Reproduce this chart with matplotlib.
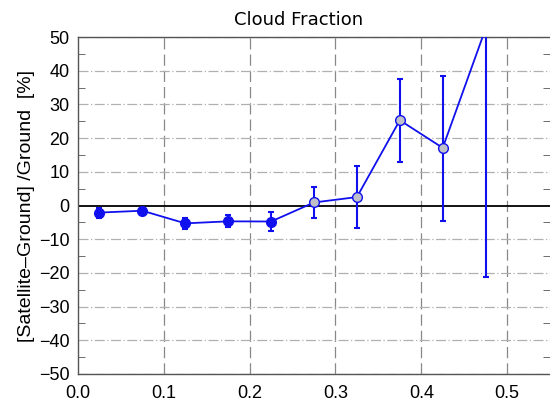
import matplotlib
matplotlib.use('Agg')
import matplotlib.pyplot as plt
import numpy as np

# bin centres of cloud fraction and relative difference [%]
cloud_frac = [0.025, 0.075, 0.125, 0.175, 0.225, 0.275, 0.325, 0.375, 0.425, 0.475]
rel_diff = [-2.1, -1.55, -5.3, -4.7, -4.75, 0.9, 2.5, 25.3, 17.1, 52.5]
err_low = [1.6, 0.8, 1.8, 1.8, 2.85, 4.5, 9.1, 12.4, 21.6, 73.7]
err_high = [1.4, 0.8, 1.7, 1.8, 2.75, 4.5, 9.1, 12.3, 21.3, 73.7]
filled = [True, True, True, True, True, False, False, False, False, False]

yticks = [-50, -40, -30, -20, -10, 0, 10, 20, 30, 40, 50]
xticks = [0.0, 0.1, 0.2, 0.3, 0.4, 0.5]

plt.rcParams['font.family'] = ['Liberation Sans', 'DejaVu Sans']

fig = plt.figure(figsize=(5.5, 4.04), dpi=100)
ax = fig.add_axes([78 / 550, 30 / 404, 472 / 550, 337 / 404])

x = np.array(cloud_frac)
y = np.array(rel_diff)
blue = '#1010ee'

# grid
for xv in xticks[1:]:
    ax.axvline(xv, color='#888888', lw=0.9, ls=(0, (9, 4)), zorder=1)
for yv in yticks:
    if yv != 0:
        ax.axhline(yv, color='#b0b0b0', lw=0.9, ls=(0, (8, 2, 1, 2)), zorder=1)
ax.axhline(0, color='black', lw=1.3, zorder=2)

ax.errorbar(x, y, yerr=[err_low, err_high], fmt='none', ecolor=blue,
            elinewidth=1.5, capsize=2.5, capthick=1.5, zorder=3)
ax.plot(x, y, color=blue, lw=1.3, zorder=4)
for xi, yi, f in zip(x, y, filled):
    ax.plot(xi, yi, 'o', ms=7, mfc=blue if f else '#c0c0c8', mec=blue,
            mew=1.0, zorder=5)

ax.set_xlim(0, 0.55)
ax.set_ylim(-50, 50)
ax.set_xticks(xticks)
ax.set_xticklabels(['%.1f' % v for v in xticks])
ax.set_yticks(yticks)
ax.set_yticks(np.arange(-45, 50, 10), minor=True)
ax.tick_params(axis='both', which='major', length=0, labelsize=13, pad=6)
ax.tick_params(axis='x', which='major', pad=8)
ax.tick_params(axis='y', which='minor', length=5, direction='in',
               left=True, right=True, color='#555555')
ax.tick_params(axis='x', which='both', bottom=False)
for s in ['left', 'top', 'bottom']:
    ax.spines[s].set_color('#555555')
    ax.spines[s].set_linewidth(1.0)
ax.spines['right'].set_visible(False)

ax.set_ylabel('[Satellite\u2013Ground] /Ground  [%]', fontsize=14, labelpad=3)
fig.text(299 / 550, 1 - 20 / 404, 'Cloud Fraction', ha='center', va='center',
         fontsize=13, family='DejaVu Sans', color='black')

fig.savefig('out.png', dpi=100)
